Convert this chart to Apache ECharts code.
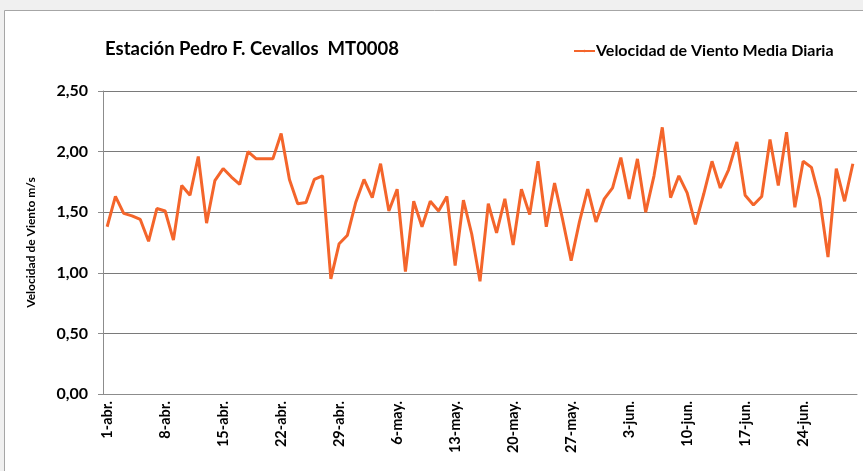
<!DOCTYPE html>
<html>
<head>
<meta charset="utf-8">
<script src="https://cdn.jsdelivr.net/npm/echarts@6/dist/echarts.min.js"></script>
<style>
  html, body { margin: 0; padding: 0; background: #f0f0f0; }
  #main { width: 863px; height: 471px; }
</style>
</head>
<body>
<div id="main"></div>
<script>
// meses y días del periodo (1-abr a 30-jun)
var meses = ['abr.', 'may.', 'jun.'];
var diasMes = [30, 31, 30];

var fechas = [];
meses.forEach(function (m, k) {
  for (var d = 1; d <= diasMes[k]; d++) fechas.push(d + '-' + m);
});

// velocidad de viento media diaria (m/s)
var velocidad = [
  1.38, 1.63, 1.49, 1.47, 1.44, 1.26, 1.53, 1.51, 1.27, 1.72,
  1.64, 1.96, 1.41, 1.76, 1.86, 1.79, 1.73, 2.00, 1.94, 1.94,
  1.94, 2.15, 1.77, 1.57, 1.58, 1.77, 1.80, 0.95, 1.24, 1.31,
  1.58, 1.77, 1.62, 1.90, 1.51, 1.69, 1.01, 1.59, 1.38, 1.59,
  1.51, 1.63, 1.06, 1.60, 1.32, 0.93, 1.57, 1.33, 1.61, 1.23,
  1.69, 1.48, 1.92, 1.38, 1.74, 1.43, 1.10, 1.42, 1.69, 1.42,
  1.61, 1.70, 1.95, 1.61, 1.94, 1.50, 1.80, 2.20, 1.62, 1.80,
  1.66, 1.40, 1.65, 1.92, 1.70, 1.85, 2.08, 1.64, 1.56, 1.63,
  2.10, 1.72, 2.16, 1.54, 1.92, 1.87, 1.61, 1.13, 1.86, 1.59,
  1.90
];

var fuente = 'Lato';
var chart = echarts.init(document.getElementById('main'));

var option = {
  backgroundColor: '#f0f0f0',
  textStyle: { fontFamily: fuente },
  graphic: [{
    type: 'rect',
    z: -10,
    shape: { x: 4.5, y: 10.5, width: 900, height: 500 },
    style: { fill: '#ffffff', stroke: '#a6a6a6', lineWidth: 1 }
  }],
  title: {
    text: 'Estación Pedro F. Cevallos  MT0008',
    left: 100,
    top: 35,
    textStyle: { fontFamily: fuente, fontSize: 18.5, fontWeight: 'bold', color: '#000' }
  },
  legend: {
    left: 568,
    top: 38,
    itemWidth: 21,
    itemHeight: 3,
    itemGap: 2,
    textStyle: { fontFamily: fuente, fontSize: 16, fontWeight: 'bold', color: '#000', padding: [0, 0, 0, -4] },
    data: ['Velocidad de Viento Media Diaria']
  },
  grid: { left: 103, top: 91, right: 6, bottom: 77 },
  xAxis: {
    type: 'category',
    boundaryGap: true,
    data: fechas,
    axisLine: { lineStyle: { color: '#8c8c8c', width: 1 } },
    axisTick: { show: false },
    axisLabel: {
      interval: 6,
      rotate: 90,
      margin: 7,
      fontFamily: fuente,
      fontSize: 14.5,
      fontWeight: 'bold',
      color: '#000'
    }
  },
  yAxis: {
    type: 'value',
    min: 0,
    max: 2.5,
    interval: 0.5,
    name: 'Velocidad de Viento m/s',
    nameLocation: 'middle',
    nameGap: 66,
    nameTextStyle: { fontFamily: fuente, fontSize: 12, fontWeight: 'bold', color: '#000' },
    axisLine: { show: true, lineStyle: { color: '#8c8c8c', width: 1 } },
    axisTick: { show: true, length: 5, lineStyle: { color: '#8c8c8c' } },
    splitLine: { lineStyle: { color: '#7a7a7a', width: 1 } },
    axisLabel: {
      margin: 15,
      fontFamily: fuente,
      fontSize: 16,
      fontWeight: 'bold',
      color: '#000',
      formatter: function (v) { return v.toFixed(2).replace('.', ','); }
    }
  },
  series: [{
    name: 'Velocidad de Viento Media Diaria',
    type: 'line',
    data: velocidad,
    symbol: 'none',
    lineStyle: { color: '#f4652b', width: 3 },
    itemStyle: { color: '#f4652b' }
  }]
};

chart.setOption(option);
</script>
</body>
</html>
